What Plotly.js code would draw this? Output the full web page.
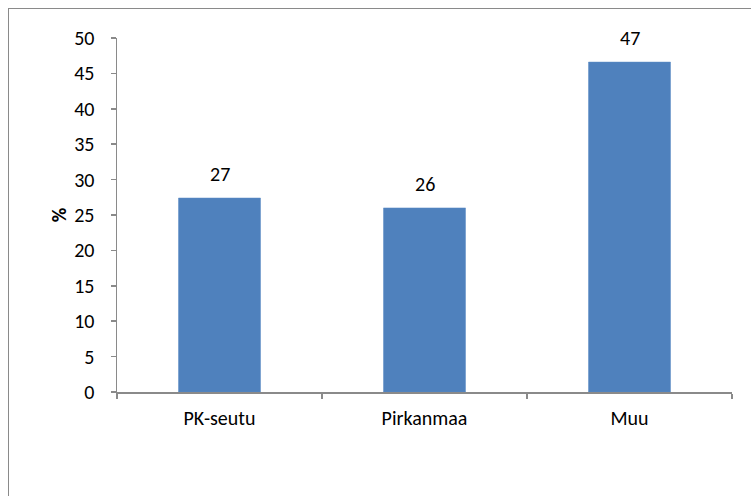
<!DOCTYPE html>
<html>
<head>
<meta charset="utf-8">
<script src="https://cdn.plot.ly/plotly-3.0.1.min.js"></script>
<style>
  html, body { margin: 0; padding: 0; background: #fff; overflow: hidden; }
  #wrap { position: relative; width: 751px; height: 496px; }
  #chart { position: absolute; left: 0; top: 0; width: 751px; height: 496px; }
  #frame { position: absolute; left: 8px; top: 8px; width: 780px; height: 520px;
           border: 1.5px solid #8a8a8a; box-sizing: border-box; pointer-events: none; }
</style>
</head>
<body>
<div id="wrap">
  <div id="chart"></div>
  <div id="frame"></div>
</div>
<script>
// Share of respondents by region (%)
const categories = ['PK-seutu', 'Pirkanmaa', 'Muu'];
const shares = [27.4, 26.0, 46.6];
const yTicks = [0, 5, 10, 15, 20, 25, 30, 35, 40, 45, 50];

const font = { family: 'Carlito, Calibri, "Open Sans", sans-serif', size: 20, color: '#000' };

const bars = {
  type: 'bar',
  x: categories,
  y: shares,
  width: 0.4,
  marker: { color: '#4f81bd', line: { color: '#5a8ac4', width: 0.5 } },
  hoverinfo: 'skip'
};

// value labels above each bar, rounded to whole percent
const labels = categories.map((c, i) => ({
  x: c, y: shares[i], xref: 'x', yref: 'y',
  text: shares[i].toFixed(0), showarrow: false,
  yanchor: 'bottom', yshift: 10, font: font
}));

const layout = {
  width: 751, height: 496,
  margin: { l: 117, r: 19, t: 38, b: 104 },
  paper_bgcolor: '#fff', plot_bgcolor: '#fff',
  font: font,
  showlegend: false,
  bargap: 0.6,
  xaxis: {
    type: 'category',
    showline: true, linecolor: '#8a8a8a', linewidth: 1.5,
    ticks: 'outside', tickson: 'boundaries', ticklen: 5, tickcolor: '#8a8a8a', tickwidth: 1.5,
    showgrid: false, zeroline: false, ticklabelstandoff: 7,
    tickfont: font
  },
  yaxis: {
    range: [0, 50], tickvals: yTicks, ticktext: yTicks.map(String),
    showline: true, linecolor: '#8a8a8a', linewidth: 1.5,
    ticks: 'outside', ticklen: 5, tickcolor: '#8a8a8a', tickwidth: 1.5,
    showgrid: false, zeroline: false, ticklabelstandoff: 12,
    tickfont: font,
    title: { text: '<b>%</b>', font: font, standoff: 2 }
  },
  annotations: labels
};

Plotly.newPlot('chart', [bars], layout, { staticPlot: true, displayModeBar: false });
</script>
</body>
</html>
